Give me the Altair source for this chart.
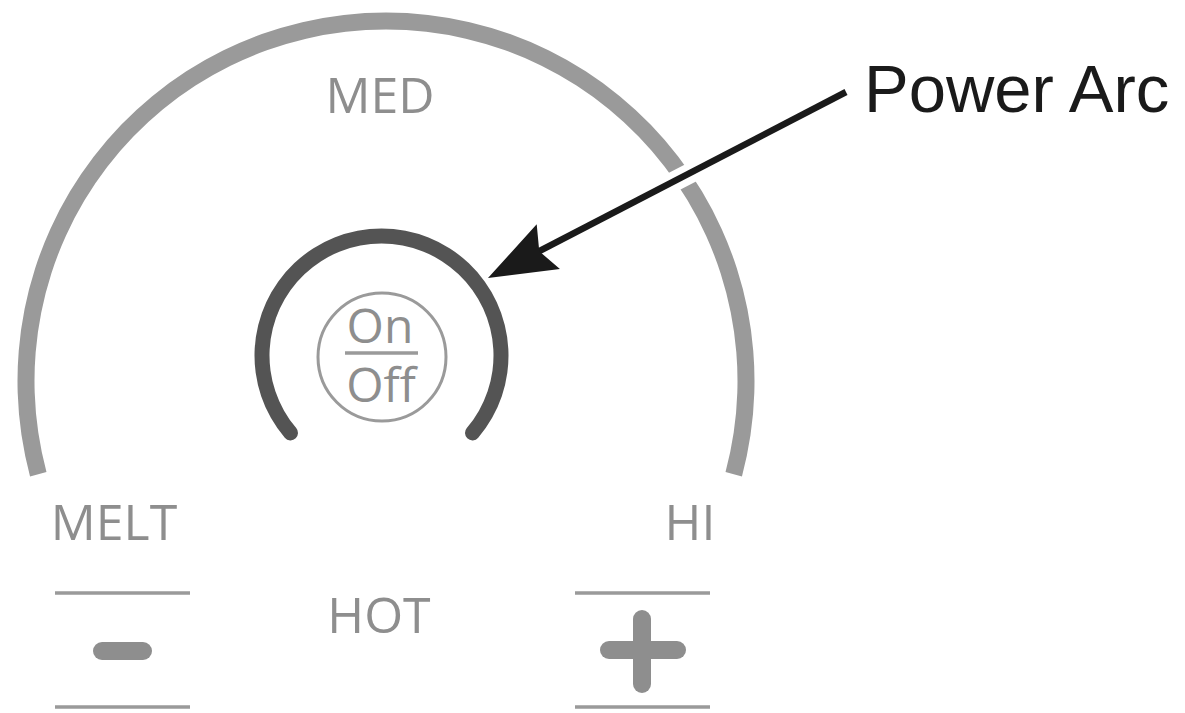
import math
import altair as alt
import pandas as pd

# ---- page / plot geometry (data units == page pixels) ----
W, H = 1169, 705
OX, OY = 8, 8

# ---- arcs (angles clockwise from 12 o'clock, degrees) ----
arc_name = ["outer", "power"]
arc_cx = [386, 381.5]
arc_cy = [381, 355.5]
arc_r_in = [351.5, 112]
arc_r_out = [368.5, 127]
arc_start = [255, 226]
arc_end = [465, 494]

# ---- On/Off ring ----
ring_cx = [382]
ring_cy = [357]

# ---- straight strokes ----
thin_x1 = [55, 55, 575, 575, 345]
thin_x2 = [190, 190, 710, 710, 418]
thin_y1 = [593, 707, 593, 707, 353]
thin_y2 = [593, 707, 593, 707, 353]

sym_x1 = [102, 609, 642]
sym_x2 = [143, 677, 642]
sym_y1 = [651, 650, 619]
sym_y2 = [651, 650, 684]

# ---- arrow ----
arrow_x1 = [846]
arrow_y1 = [92]
arrow_x2 = [530]
arrow_y2 = [256]
halo_x1 = [706]
halo_y1 = [165]
halo_x2 = [644]
halo_y2 = [197]
head_x = [488]
head_y = [278]
head_angle = [242.5]

# ---- labels ----
label_text = ["MED", "MELT", "HI", "HOT", "On", "Off"]
label_x = [380, 114, 690, 379, 380, 381]
label_y = [113, 540, 540, 633, 343, 402]
label_size = [50, 50, 50, 50, 48, 48]

callout_text = ["Power Arc"]
callout_x = [864]
callout_y = [112]

xs = alt.Scale(domain=[OX, OX + W], nice=False, zero=False)
ys = alt.Scale(domain=[OY, OY + H], nice=False, zero=False, reverse=True)


def X(f):
    return alt.X(f, type="quantitative", scale=xs, axis=None)


def Y(f):
    return alt.Y(f, type="quantitative", scale=ys, axis=None)


arcs = pd.DataFrame({
    "name": arc_name, "cx": arc_cx, "cy": arc_cy,
    "r0": arc_r_in, "r1": arc_r_out,
    "t0": [math.radians(a) for a in arc_start],
    "t1": [math.radians(a) for a in arc_end],
})


def arc_layer(name, color, corner):
    return alt.Chart(arcs[arcs.name == name]).mark_arc(
        color=color, cornerRadius=corner, stroke=None
    ).encode(
        x=X("cx"), y=Y("cy"),
        theta=alt.Theta("t0:Q", scale=None, stack=None),
        theta2="t1:Q",
        radius=alt.Radius("r1:Q", scale=None),
        radius2="r0:Q",
    )


outer = arc_layer("outer", "#9a9a9a", 0)
power = arc_layer("power", "#545454", 7.5)

ring = alt.Chart(pd.DataFrame({"x": ring_cx, "y": ring_cy})).mark_point(
    shape="circle", filled=False, size=128 * 128, strokeWidth=3, color="#9a9a9a", opacity=1
).encode(x=X("x"), y=Y("y"))

thin = alt.Chart(pd.DataFrame({"x": thin_x1, "x2": thin_x2, "y": thin_y1, "y2": thin_y2})).mark_rule(
    color="#9a9a9a", strokeWidth=3.5
).encode(x=X("x"), x2="x2", y=Y("y"), y2="y2")

syms = alt.Chart(pd.DataFrame({"x": sym_x1, "x2": sym_x2, "y": sym_y1, "y2": sym_y2})).mark_rule(
    color="#8e8e8e", strokeWidth=18, strokeCap="round"
).encode(x=X("x"), x2="x2", y=Y("y"), y2="y2")

halo = alt.Chart(pd.DataFrame({"x": halo_x1, "x2": halo_x2, "y": halo_y1, "y2": halo_y2})).mark_rule(
    color="white", strokeWidth=20
).encode(x=X("x"), x2="x2", y=Y("y"), y2="y2")

arrow = alt.Chart(pd.DataFrame({"x": arrow_x1, "x2": arrow_x2, "y": arrow_y1, "y2": arrow_y2})).mark_rule(
    color="#1a1a1a", strokeWidth=6.5
).encode(x=X("x"), x2="x2", y=Y("y"), y2="y2")

head = alt.Chart(pd.DataFrame({"x": head_x, "y": head_y, "a": head_angle})).mark_point(
    shape="M0,0L0.37,1L0,0.85L-0.37,1Z", filled=True, size=136 * 136, color="#1a1a1a", opacity=1
).encode(x=X("x"), y=Y("y"), angle=alt.Angle("a:Q", scale=None))

labels = alt.Chart(pd.DataFrame({"t": label_text, "x": label_x, "y": label_y, "s": label_size})).mark_text(
    font="Open Sans", color="#8e8e8e", align="center", baseline="alphabetic"
).encode(x=X("x"), y=Y("y"), text="t:N", size=alt.Size("s:Q", scale=None, legend=None))

callout = alt.Chart(pd.DataFrame({"t": callout_text, "x": callout_x, "y": callout_y})).mark_text(
    font="Liberation Sans", color="#1a1a1a", align="left", baseline="alphabetic", fontSize=67
).encode(x=X("x"), y=Y("y"), text="t:N")

chart = alt.layer(
    outer, power, ring, thin, syms, halo, arrow, head, labels, callout
).properties(
    width=W, height=H, padding=0, autosize=alt.AutoSizeParams(type="none"), background="white"
).configure_view(stroke=None)

chart.save("out.html", embed_options={"renderer": "svg", "actions": False})
